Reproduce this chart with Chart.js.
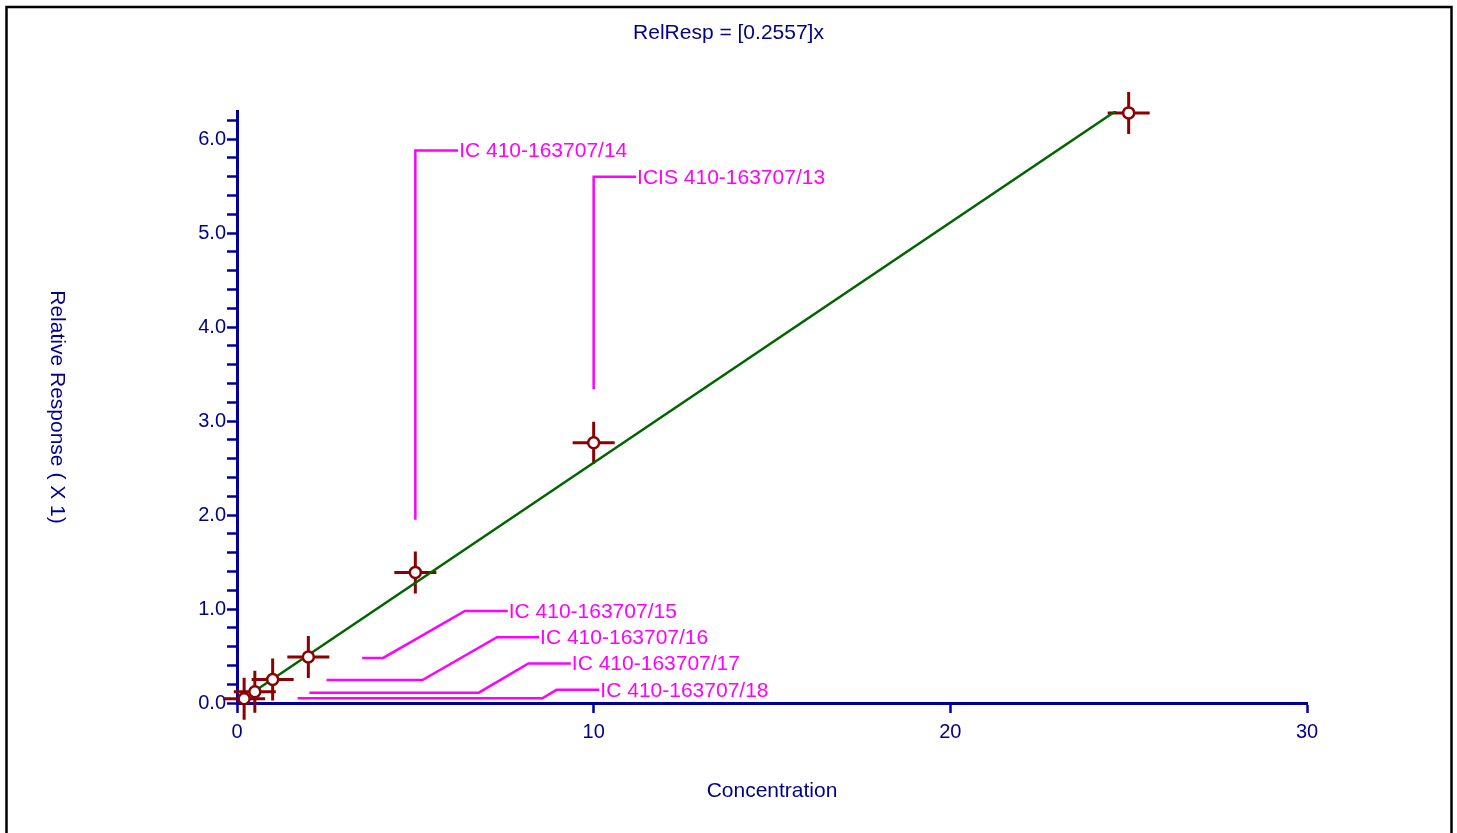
<!DOCTYPE html>
<html>
<head>
    <meta charset="utf-8" />
    <title>RelResp</title>
    <script src="https://cdn.jsdelivr.net/npm/chart.js"></script>
    <style>
        body { margin: 0; background: #fff; }
        #wrap { width: 1457px; height: 833px; }
    </style>
</head>
<body>
    <div id="wrap">
        <canvas id="myChart" width="1457" height="833"></canvas>
    </div>

    <script>
        // calibration points
        const concentration = [0.2, 0.5, 1, 2, 5, 10, 25];
        const relResponse = [0.045, 0.12, 0.25, 0.49, 1.39, 2.77, 6.28];

        // fitted line RelResp = 0.2557 x (ends at the top of the plot)
        const fitX = [0.5, 24.64];
        const fitY = [0.128, 6.30];

        const xTicks = [0, 10, 20, 30];
        const yTickLabels = ['0.0', '1.0', '2.0', '3.0', '4.0', '5.0', '6.0'];

        // callouts: label text and leader path in data units
        const calloutLabels = ['IC 410-163707/14', 'ICIS 410-163707/13', 'IC 410-163707/15',
            'IC 410-163707/16', 'IC 410-163707/17', 'IC 410-163707/18'];
        const calloutPathX = [
            [5, 5, 6.2],
            [10, 10, 11.19],
            [3.51, 4.10, 6.39, 7.59],
            [2.51, 5.20, 7.29, 8.47],
            [2.03, 6.78, 8.17, 9.36],
            [1.70, 8.56, 8.96, 10.16]
        ];
        const calloutPathY = [
            [1.95, 5.88, 5.88],
            [3.34, 5.60, 5.60],
            [0.48, 0.48, 0.98, 0.98],
            [0.245, 0.245, 0.70, 0.70],
            [0.11, 0.11, 0.42, 0.42],
            [0.05, 0.05, 0.14, 0.14]
        ];

        const FONT = '"Liberation Sans", Arial, sans-serif';
        const BLUE = '#000099';
        const TXT = '#00008b';
        const RED = '#8b0000';
        const MAGENTA = '#ff00ff';

        const pts = concentration.map((x, i) => ({ x: x, y: relResponse[i] }));
        const fit = fitX.map((x, i) => ({ x: x, y: fitY[i] }));

        const decor = {
            id: 'decor',
            afterDatasetsDraw(chart) {
                const ctx = chart.ctx;
                const xs = chart.scales.x, ys = chart.scales.y;
                const area = chart.chartArea;
                ctx.save();

                // callouts
                ctx.strokeStyle = MAGENTA;
                ctx.fillStyle = MAGENTA;
                ctx.lineWidth = 2.5;
                ctx.font = '21px ' + FONT;
                ctx.textBaseline = 'middle';
                ctx.textAlign = 'left';
                calloutLabels.forEach((lab, i) => {
                    const px = calloutPathX[i], py = calloutPathY[i];
                    ctx.beginPath();
                    px.forEach((v, k) => {
                        const X = xs.getPixelForValue(v), Y = ys.getPixelForValue(py[k]);
                        if (k === 0) ctx.moveTo(X, Y); else ctx.lineTo(X, Y);
                    });
                    ctx.stroke();
                    const lx = xs.getPixelForValue(px[px.length - 1]);
                    const ly = ys.getPixelForValue(py[py.length - 1]);
                    ctx.fillText(lab, lx + 1, ly + 1);
                });

                // titles
                ctx.fillStyle = TXT;
                ctx.textAlign = 'center';
                ctx.font = '21px ' + FONT;
                ctx.fillText('RelResp = [0.2557]x', chart.width / 2, 33);
                ctx.fillText('Concentration', (area.left + area.right) / 2, 791);
                ctx.translate(57, (area.top + area.bottom) / 2);
                ctx.rotate(Math.PI / 2);
                ctx.fillText('Relative Response ( X 1)', 0, 0);
                ctx.restore();

                // frame
                ctx.save();
                ctx.strokeStyle = '#000';
                ctx.lineWidth = 2.5;
                ctx.strokeRect(6.5, 7, 1445, 900);
                ctx.restore();
            }
        };

        const config = {
            type: 'scatter',
            data: {
                datasets: [{
                    data: pts,
                    pointStyle: 'circle',
                    pointRadius: 5.5,
                    pointBackgroundColor: '#fff',
                    pointBorderColor: RED,
                    pointBorderWidth: 2.5,
                    clip: false
                }, {
                    type: 'line',
                    data: fit,
                    borderColor: '#006400',
                    borderWidth: 2.5,
                    pointRadius: 0,
                    fill: false
                }, {
                    data: pts,
                    pointStyle: 'cross',
                    pointRadius: 21,
                    pointBorderColor: RED,
                    pointBorderWidth: 3,
                    clip: false
                }]
            },
            options: {
                responsive: false,
                animation: false,
                events: [],
                layout: { padding: { left: 0, top: 111, right: 150, bottom: 0 } },
                plugins: { legend: { display: false }, tooltip: { enabled: false }, title: { display: false } },
                scales: {
                    x: {
                        type: 'linear',
                        min: 0, max: 30,
                        afterFit(s) { s.height = 130; },
                        afterBuildTicks(s) { s.ticks = xTicks.map(v => ({ value: v })); },
                        border: { display: true, color: BLUE, width: 3 },
                        grid: { drawOnChartArea: false, drawTicks: true, tickLength: 10, tickWidth: 2.5, tickColor: BLUE },
                        ticks: { color: TXT, font: { family: FONT, size: 20 }, padding: 7, maxRotation: 0 }
                    },
                    y: {
                        type: 'linear',
                        min: 0, max: 6.3,
                        afterFit(s) { s.width = 237; },
                        border: { display: true, color: BLUE, width: 3 },
                        grid: { drawOnChartArea: false, drawTicks: true, tickLength: 10, tickWidth: 2.5, tickColor: BLUE },
                        ticks: {
                            stepSize: 0.2,
                            includeBounds: false,
                            autoSkip: false,
                            color: TXT,
                            font: { family: FONT, size: 20 },
                            padding: 1,
                            callback: v => {
                                const r = Math.round(v);
                                return Math.abs(v - r) < 1e-6 ? yTickLabels[r] : '';
                            }
                        }
                    }
                }
            },
            plugins: [decor]
        };

        var myChart = new Chart(document.getElementById('myChart'), config);
    </script>
</body>
</html>
